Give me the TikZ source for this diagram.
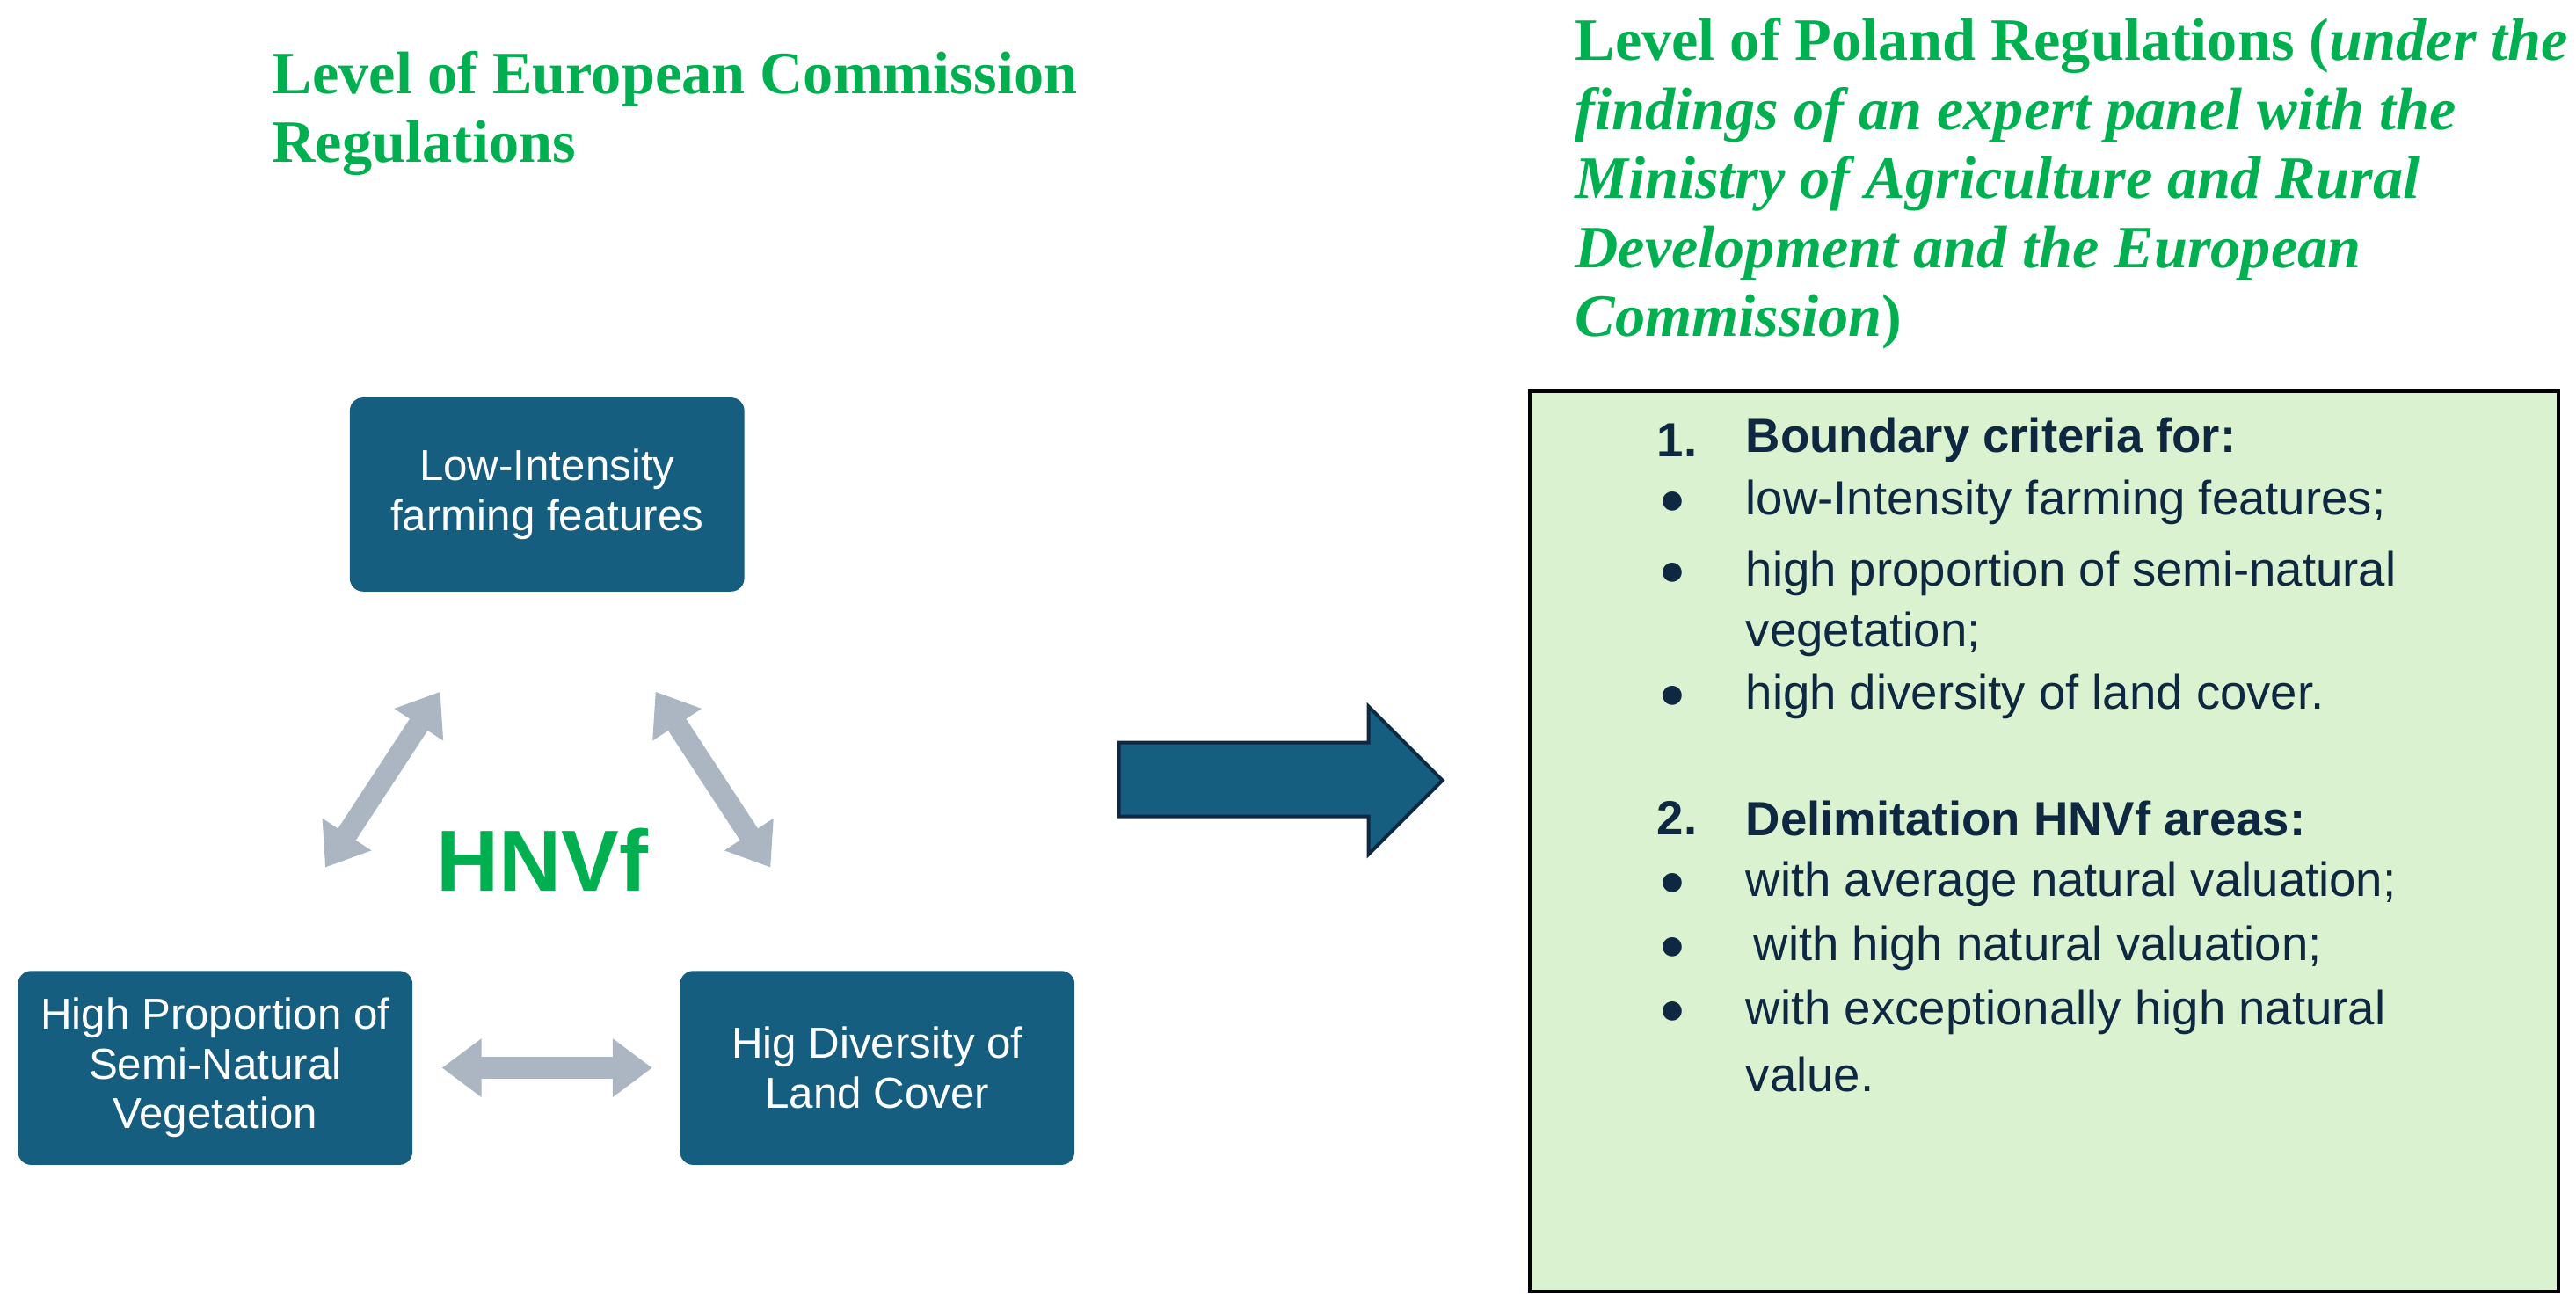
\documentclass[tikz,border=0pt]{standalone}
\usepackage{fontspec}
\setmainfont{Liberation Serif}
\newfontfamily\boxfont{Liberation Sans}
\usetikzlibrary{arrows.meta}
\definecolor{tealb}{RGB}{22,94,128}
\definecolor{grayarr}{RGB}{171,182,194}
\definecolor{tgreen}{RGB}{0,176,80}
\definecolor{lgreen}{RGB}{218,242,208}
\definecolor{navy}{RGB}{14,40,65}
\tikzset{
 bx/.style={fill=tealb,rounded corners=0.08cm,minimum width=2.4cm,minimum height=1.18cm,text=white,align=center,font=\boxfont\fontsize{7.5}{8.6}\selectfont},
 ttl/.style={anchor=west,text=tgreen,font=\fontsize{10.4}{12}\selectfont\bfseries,inner sep=0},
 li/.style={anchor=west,text=navy,font=\boxfont\fontsize{8.3}{10}\selectfont,inner sep=0},
 gar/.style={draw=grayarr,line width=0.13cm,{Triangle[width=0.34cm,length=0.24cm]}-{Triangle[width=0.34cm,length=0.24cm]}}
}
\begin{document}
\begin{tikzpicture}[x=0.01cm,y=-0.01cm]
\useasboundingbox (0,0) rectangle (1568,797);
\node[ttl] (t1) at (165,48) {Level of European Commission};
\node[ttl] (t2) at (165,90) {Regulations};
\node[ttl] (r1) at (958,28) {Level of Poland Regulations (\textit{under the}};
\node[ttl] (r2) at (958,70) {\textit{findings of an expert panel with the}};
\node[ttl] (r3) at (958,112) {\textit{Ministry of Agriculture and Rural}};
\node[ttl] (r4) at (958,154) {\textit{Development and the European}};
\node[ttl] (r5) at (958,196) {\textit{Commission})};
\node[bx] (top) at (333,301) {Low-Intensity\\farming features};
\node[bx] (lft) at (131,650) {High Proportion of\\Semi-Natural\\Vegetation};
\node[bx] (rgt) at (534,650) {Hig Diversity of\\Land Cover};
\coordinate (a1) at (198,528); \coordinate (a2) at (268,421);
\coordinate (b1) at (399,421); \coordinate (b2) at (469,528);
\coordinate (c1) at (269,650); \coordinate (c2) at (397,650);
\draw[gar] (a1) -- (a2);
\draw[gar] (b1) -- (b2);
\draw[gar] (c1) -- (c2);
\node[text=tgreen,font=\boxfont\bfseries\fontsize{15}{15}\selectfont] (h) at (330,523) {HNVf};
\draw[fill=tealb,draw=navy,line width=0.6pt] (681,452) -- (833,452) -- (833,430) -- (878,475) -- (833,520) -- (833,497) -- (681,497) -- cycle;
\node[draw=black,fill=lgreen,line width=0.6pt,minimum width=6.26cm,minimum height=5.48cm,anchor=north west,inner sep=0] (g) at (930,237) {};
\node[li,font=\boxfont\bfseries\fontsize{8.3}{10}\selectfont] (n1) at (1008,268) {1.};
\node[li,font=\boxfont\bfseries\fontsize{8.3}{10}\selectfont] (l1) at (1062,268) {Boundary criteria for:};
\foreach \y/\t in {306/{low-Intensity farming features;},349/{high proportion of semi-natural},424/{high diversity of land cover.},538/{with average natural valuation;},577/{\,with high natural valuation;},616/{with exceptionally high natural}}{
 \node[li] at (1010,\y) {$\bullet$};
 \node[li] at (1062,\y) {\t};
}
\node[li] (l3) at (1062,386) {vegetation;};
\node[li] (l4) at (1062,654) {value.};
\node[li,font=\boxfont\bfseries\fontsize{8.3}{10}\selectfont] (n2) at (1008,498) {2.};
\node[li,font=\boxfont\bfseries\fontsize{8.3}{10}\selectfont] (l2) at (1062,498) {Delimitation HNVf areas:};
\end{tikzpicture}
\end{document}
